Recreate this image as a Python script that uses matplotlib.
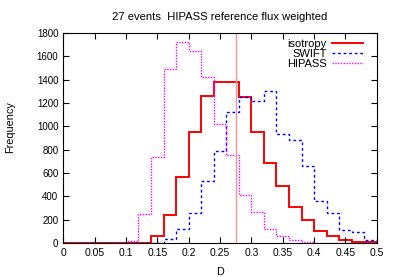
import numpy as np
import matplotlib
matplotlib.use('Agg')
import matplotlib.pyplot as plt

plt.rcParams['font.family'] = ['Liberation Sans', 'DejaVu Sans']

# bin edges 0 .. 0.5 in steps of 0.02
edges = np.round(np.arange(0, 0.5001, 0.02), 3)

isotropy = [0, 0, 0, 0, 0, 0, 3, 63, 240, 566, 949, 1263, 1383, 1383, 1251,
            951, 689, 486, 306, 194, 106, 63, 29, 9, 6]
swift = [0, 0, 0, 0, 0, 0, 0, 3, 37, 120, 254, 531, 786, 1120, 1251,
         1220, 1303, 931, 880, 663, 363, 254, 109, 91, 29]
hipass = [0, 0, 0, 0, 0, 15, 250, 737, 1494, 1723, 1649, 1420, 1023, 757, 408,
          263, 123, 63, 29, 9, 3, 0, 0, 0, 0]
d_ref = 0.275

fig = plt.figure(figsize=(3.95, 2.77), dpi=100)
ax = fig.add_axes([0.16, 0.123, 0.794, 0.758])

ax.axvline(d_ref, color='#ff9090', lw=1.0)
ax.stairs(isotropy, edges, color='red', lw=1.4, label='isotropy')
ax.stairs(swift, edges, color='blue', lw=1.0, ls=(0, (2, 2)), label='SWIFT')
ax.stairs(hipass, edges, color='magenta', lw=1.0, ls=(0, (1, 1)), label='HIPASS')

ax.set_xlim(0, 0.5)
ax.set_ylim(0, 1800)
ax.set_xticks(np.arange(0, 0.5001, 0.05))
ax.set_xticklabels(['0', '0.05', '0.1', '0.15', '0.2', '0.25', '0.3',
                    '0.35', '0.4', '0.45', '0.5'])
ax.set_yticks(np.arange(0, 1801, 200))
ax.tick_params(direction='in', top=True, right=True, length=4)
ax.tick_params(axis='x', labelsize=7.5)
ax.tick_params(axis='y', labelsize=7)

ax.set_title('27 events  HIPASS reference flux weighted', fontsize=8.1, pad=9)
ax.set_xlabel('D', fontsize=7.8)
ax.set_ylabel('Frequency', fontsize=7.8)
ax.xaxis.set_label_coords(0.5, -0.114)
ax.yaxis.set_label_coords(-0.153, 0.55)

ax.legend(loc='upper right', bbox_to_anchor=(0.973, 1.0), frameon=False,
          markerfirst=False, fontsize=8, handlelength=2.8, labelspacing=0.0,
          handletextpad=0.45, borderaxespad=0.2, borderpad=0.3)

fig.savefig('out.png', dpi=100)
